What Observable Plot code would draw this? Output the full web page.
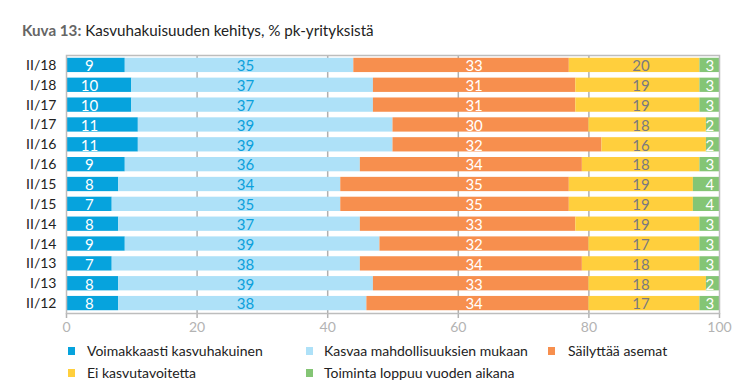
<!DOCTYPE html>
<html><head><meta charset="utf-8">
<script src="https://cdn.jsdelivr.net/npm/d3@7"></script>
<script src="https://cdn.jsdelivr.net/npm/@observablehq/plot@0.6"></script>
<style>
body{margin:0;background:#fff;font-family:Lato,"Open Sans",sans-serif;width:750px;height:390px;position:relative;overflow:hidden}
#title{position:absolute;left:22px;top:20px;font-size:15.2px;line-height:20px;color:#222;white-space:nowrap}
#title b{color:#666}
#chart{position:absolute;left:0;top:40px}
#legend{position:absolute;left:0;top:340px;width:750px;font-size:14px;color:#222}
.li{position:absolute;white-space:nowrap;line-height:20px;height:20px}
.sw{position:absolute;top:6px;width:7px;height:8px}
.lt{position:absolute;top:0}
svg g[aria-label^="x-axis"]{color:#b3b3b3}
svg g[aria-label^="y-axis"]{color:#222}
</style></head><body>
<div id="title"><b>Kuva 13:</b> Kasvuhakuisuuden kehitys, % pk-yrityksistä</div>
<div id="chart"></div>
<div id="legend"></div>
<script>
const periods = ["II/18","I/18","II/17","I/17","II/16","I/16","II/15","I/15","II/14","I/14","II/13","I/13","II/12"];
const seriesNames = ["Voimakkaasti kasvuhakuinen","Kasvaa mahdollisuuksien mukaan","Säilyttää asemat","Ei kasvutavoitetta","Toiminta loppuu vuoden aikana"];
const strong   = [9,10,10,11,11,9,8,7,8,9,7,8,8];
const possible = [35,37,37,39,39,36,34,35,37,39,38,39,38];
const keep     = [33,31,31,30,32,34,35,35,33,32,34,33,34];
const noGrowth = [20,19,19,18,16,18,19,19,19,17,18,18,17];
const ending   = [3,3,3,2,2,3,4,4,3,3,3,2,3];
const xTicks = [0,20,40,60,80,100];
const gridTicks = [20,40,60,80];

const seriesValues = [strong, possible, keep, noGrowth, ending];
const colors = ["#06a3dd","#aee1f8","#f78f4e","#ffcf3d","#84c575"];
const labelColors = ["#ffffff","#0ba0dc","#ffffff","#7a7a80","#ffffff"];

const data = [];
periods.forEach((p, i) => {
  seriesValues.forEach((vals, s) => data.push({period: p, series: seriesNames[s], s, value: vals[i]}));
});

// label column per series: mean midpoint of the segment across periods
const labelX = seriesNames.map((_, s) => d3.mean(periods, (p, i) => {
  let start = 0;
  for (let k = 0; k < s; k++) start += seriesValues[k][i];
  return start + seriesValues[s][i] / 2;
}));

const marks = [
  Plot.ruleX(gridTicks, {stroke: "#b0b0b0", strokeWidth: 1.5}),
  Plot.barX(data, {y: "period", x: "value", fill: "series"}),
  Plot.frame({stroke: "#bdbdbd", strokeWidth: 1.5})
];
seriesNames.forEach((name, s) => {
  marks.push(Plot.text(data.filter(d => d.s === s), {
    x: () => labelX[s], y: "period", text: "value",
    fill: labelColors[s], fontSize: 15, dx: s === 0 ? -6 : 0, dy: 1
  }));
});

const chart = Plot.plot({
  width: 750, height: 298,
  marginLeft: 66, marginRight: 31, marginTop: 15, marginBottom: 25,
  style: {fontFamily: "Lato, 'Open Sans', sans-serif", fontSize: "14px", background: "#fff"},
  x: {domain: [0,100], ticks: xTicks, tickSize: 5, tickPadding: 4, label: null},
  y: {domain: periods, paddingInner: 0.28, paddingOuter: 0.14, round: false, tickSize: 0, tickPadding: 10, label: null},
  color: {domain: seriesNames, range: colors},
  marks
});
chart.querySelectorAll('g[aria-label^="x-axis"] path, g[aria-label^="x-axis"] line').forEach(e=>e.setAttribute("stroke-width","1.5"));
document.getElementById("chart").appendChild(chart);

// legend layout: [swatch x, text x, row center y]
const legendPos = [[68,87,351],[306,324,351],[548,568,351],[68,87,373],[306,324,373]];
const legend = document.getElementById("legend");
seriesNames.forEach((name, s) => {
  const [sx, tx, cy] = legendPos[s];
  const el = document.createElement("div");
  el.className = "li";
  el.style.left = "0px";
  el.style.top = (cy - 340 - 10) + "px";
  el.innerHTML = `<span class="sw" style="left:${sx}px;background:${colors[s]}"></span><span class="lt" style="left:${tx}px">${name}</span>`;
  legend.appendChild(el);
});
</script>
</body></html>
